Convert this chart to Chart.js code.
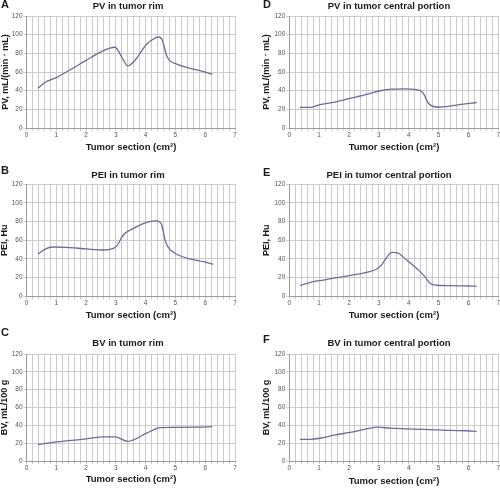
<!DOCTYPE html>
<html>
<head>
<meta charset="utf-8">
<script src="https://cdn.jsdelivr.net/npm/chart.js@4.4.1/dist/chart.umd.min.js"></script>
<style>
  html, body { margin: 0; padding: 0; background: #fff; width: 500px; height: 491px; overflow: hidden; }
  canvas { position: absolute; }
</style>
</head>
<body>
<canvas id="cA" width="250" height="160" style="left:0;top:0"></canvas>
<canvas id="cD" width="252" height="160" style="left:250px;top:0"></canvas>
<canvas id="cB" width="250" height="165" style="left:0;top:160px"></canvas>
<canvas id="cE" width="252" height="165" style="left:250px;top:160px"></canvas>
<canvas id="cC" width="250" height="166" style="left:0;top:325px"></canvas>
<canvas id="cF" width="252" height="166" style="left:250px;top:325px"></canvas>
<script>
// ---- data ----
const panelLetters = ['A', 'B', 'C', 'D', 'E', 'F'];
const panelTitles = ['PV in tumor rim', 'PEI in tumor rim', 'BV in tumor rim',
                     'PV in tumor central portion', 'PEI in tumor central portion', 'BV in tumor central portion'];
const yTitles = ['PV, mL/(min \u00B7 mL)', 'PEI, Hu', 'BV, mL/100 g',
                 'PV, mL/(min \u00B7 mL)', 'PEI, Hu', 'BV, mL/100 g'];
const xTitle = 'Tumor section (cm\u00B2)';
const xTickLabels = [0, 1, 2, 3, 4, 5, 6, 7];
const yTickLabels = [0, 20, 40, 60, 80, 100, 120];

const pvRimX = [0.38, 0.63, 1.0, 1.5, 2.0, 2.47, 2.8, 2.97, 3.2, 3.4, 3.6, 4.04, 4.3, 4.45, 4.56, 4.7, 4.8, 5.04, 5.5, 5.95, 6.24];
const pvRimY = [42.5, 49, 54, 63, 72.5, 81, 85.5, 86.5, 76, 66.5, 71, 90, 96, 97.5, 94, 78, 72.5, 68.5, 64, 60.5, 57.5];

const peiRimX = [0.38, 0.68, 0.91, 1.35, 2.02, 2.58, 2.92, 3.03, 3.25, 3.59, 4.04, 4.37, 4.54, 4.65, 4.76, 5.04, 5.49, 5.94, 6.27];
const peiRimY = [45.2, 51.3, 52.7, 52.3, 50.6, 49.5, 51.3, 53.8, 65.5, 72.6, 79, 80.5, 76.2, 60.2, 52.3, 44.9, 39.9, 37, 34.2];

const bvRimX = [0.38, 1.02, 2.02, 2.58, 2.97, 3.4, 4.04, 4.48, 4.93, 5.83, 6.24];
const bvRimY = [18.5, 21.4, 24.9, 27.1, 27.1, 22.1, 31.3, 37.4, 37.7, 38.1, 38.5];

const pvCenX = [0.36, 0.69, 1.03, 1.47, 2.03, 2.59, 3.04, 3.43, 3.93, 4.38, 4.5, 4.66, 4.93, 5.38, 5.83, 6.27];
const pvCenY = [22, 22, 25, 27.4, 31.7, 36, 39.9, 41.7, 42, 40, 36.5, 26.5, 22.5, 23.5, 25.6, 27.3];

const peiCenX = [0.36, 0.8, 1.14, 1.59, 2.14, 2.59, 2.93, 3.09, 3.28, 3.43, 3.6, 3.93, 4.38, 4.54, 4.71, 4.93, 5.38, 5.94, 6.27];
const peiCenY = [11.4, 15.7, 17.4, 19.9, 22.8, 25.6, 29.2, 33.5, 42.4, 47, 46.7, 38.8, 26.4, 21, 13.9, 11.8, 11.4, 11, 10.7];

const bvCenX = [0.36, 0.69, 1.03, 1.5, 2.03, 2.59, 2.98, 3.37, 3.93, 4.49, 4.93, 5.38, 5.94, 6.27];
const bvCenY = [24.3, 24.3, 25.5, 29, 32, 36, 37.9, 36.8, 36.1, 35.4, 35, 34.3, 33.9, 33.2];

// ---- layout / style ----
const FONT = '"Liberation Sans", Arial, Helvetica, sans-serif';
const LINE_COLOR = '#6b6d99';
const GRID_COLOR = '#cbcbcb';

const panelText = {
  id: 'panelText',
  afterDraw(chart, args, o) {
    const ctx = chart.ctx, ca = chart.chartArea;
    ctx.save();
    ctx.fillStyle = '#1a1a1a';
    ctx.textBaseline = 'middle';
    ctx.textAlign = 'left';
    ctx.font = 'bold 11px ' + FONT;
    ctx.fillText(o.letter, o.letterX, o.letterY);
    ctx.textAlign = 'center';
    ctx.font = 'bold 9.5px ' + FONT;
    ctx.fillText(o.title, o.titleX, o.titleY);
    ctx.font = 'bold 9.5px ' + FONT;
    ctx.fillText(o.xTitle, o.xTitleX, o.xTitleY);
    ctx.translate(o.yTitleX, (ca.top + ca.bottom) / 2);
    ctx.rotate(-Math.PI / 2);
    ctx.font = 'bold 9px ' + FONT;
    ctx.fillText(o.yTitle, 0, 0);
    ctx.restore();
  }
};

function makePanel(id, idx, xs, ys, geom) {
  const canvas = document.getElementById(id);
  const W = canvas.width, H = canvas.height;
  const XH = 12;
  const pts = xs.map((x, i) => ({ x: x, y: ys[i] }));
  new Chart(canvas, {
    type: 'line',
    data: {
      datasets: [{
        data: pts,
        borderColor: LINE_COLOR,
        borderWidth: 1.3,
        pointRadius: 0,
        fill: false,
        cubicInterpolationMode: 'monotone'
      }]
    },
    options: {
      responsive: false,
      animation: false,
      devicePixelRatio: 1,
      layout: { padding: { left: 0, top: geom.top, right: W - geom.right, bottom: H - geom.bottom - XH } },
      plugins: {
        legend: { display: false },
        tooltip: { enabled: false },
        panelText: {
          letter: panelLetters[idx], letterX: geom.letterX, letterY: geom.letterY,
          title: panelTitles[idx], titleX: geom.titleX, titleY: geom.titleY,
          xTitle: xTitle, xTitleX: geom.xTitleX, xTitleY: geom.xTitleY,
          yTitle: yTitles[idx], yTitleX: geom.yTitleX
        }
      },
      scales: {
        x: {
          type: 'linear',
          min: xTickLabels[0], max: xTickLabels[xTickLabels.length - 1],
          afterFit(s) { s.height = XH; },
          afterBuildTicks(s) {
            const t = [];
            for (let k = 0; k <= 35; k++) t.push({ value: k / 5 });
            s.ticks = t;
          },
          grid: { color: GRID_COLOR, lineWidth: 1, tickLength: 3, drawTicks: true },
          border: { color: '#9a9a9a', width: 1 },
          ticks: {
            autoSkip: false, maxRotation: 0, padding: 0,
            color: '#555', font: { family: FONT, size: 6.5 },
            callback(v) {
              const r = Math.round(v);
              return (Math.abs(v - r) < 1e-6 && xTickLabels.includes(r)) ? String(r) : '';
            }
          }
        },
        y: {
          min: yTickLabels[0], max: yTickLabels[yTickLabels.length - 1],
          afterFit(s) { s.width = geom.left; },
          afterBuildTicks(s) { s.ticks = yTickLabels.map(v => ({ value: v })); },
          grid: { color: GRID_COLOR, lineWidth: 1, tickLength: 3 },
          border: { color: '#9a9a9a', width: 1 },
          ticks: { padding: 1, color: '#555', font: { family: FONT, size: 6.5 } }
        }
      }
    },
    plugins: [panelText]
  });
}

makePanel('cA', 0, pvRimX, pvRimY, { left: 26.5, right: 235, top: 16, bottom: 128,
  letterX: 1, letterY: 5, titleX: 128, titleY: 6, xTitleX: 131, xTitleY: 147, yTitleX: 6 });
makePanel('cB', 1, peiRimX, peiRimY, { left: 26.5, right: 235, top: 24, bottom: 136.3,
  letterX: 1, letterY: 11, titleX: 128, titleY: 15, xTitleX: 131, xTitleY: 155, yTitleX: 5 });
makePanel('cC', 2, bvRimX, bvRimY, { left: 26.5, right: 235, top: 29, bottom: 136,
  letterX: 1, letterY: 8, titleX: 128, titleY: 18, xTitleX: 131, xTitleY: 154, yTitleX: 5 });
makePanel('cD', 3, pvCenX, pvCenY, { left: 39.3, right: 248.3, top: 16, bottom: 128,
  letterX: 13, letterY: 5, titleX: 139, titleY: 6, xTitleX: 144, xTitleY: 147, yTitleX: 17 });
makePanel('cE', 4, peiCenX, peiCenY, { left: 39.3, right: 248.3, top: 24, bottom: 136.3,
  letterX: 13, letterY: 13, titleX: 139, titleY: 15, xTitleX: 144, xTitleY: 155, yTitleX: 17 });
makePanel('cF', 5, bvCenX, bvCenY, { left: 39.3, right: 248.3, top: 29, bottom: 136,
  letterX: 13, letterY: 15, titleX: 139, titleY: 18.5, xTitleX: 144, xTitleY: 156, yTitleX: 17 });
</script>
</body>
</html>
